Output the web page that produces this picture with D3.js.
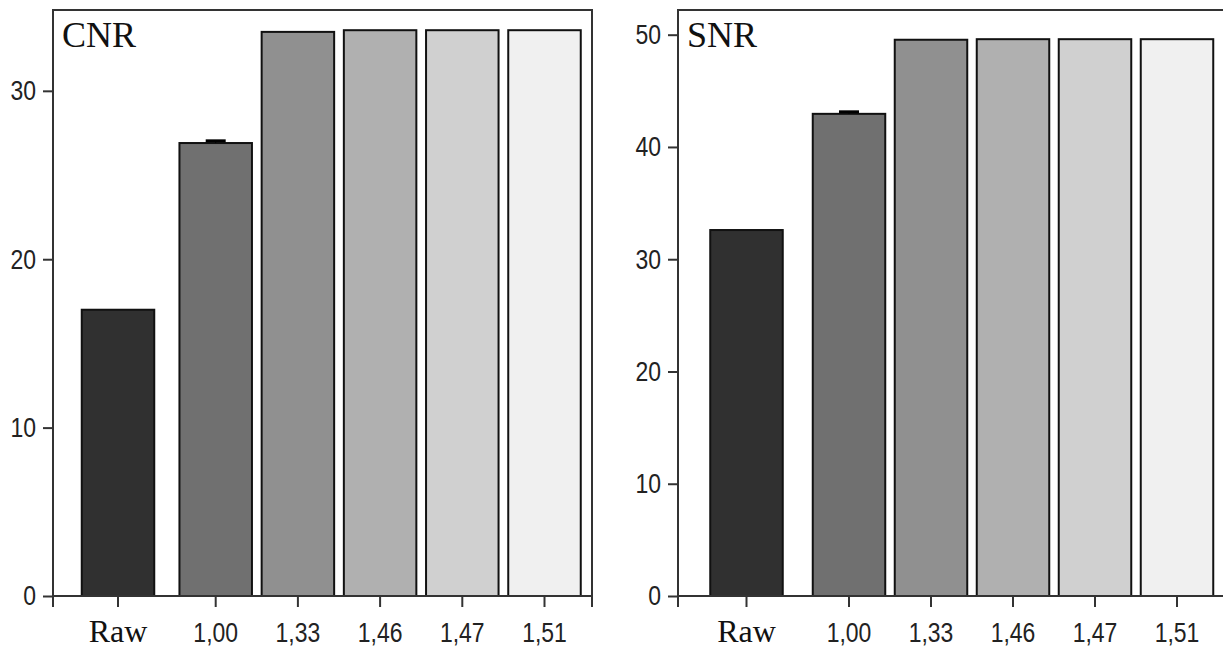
<!DOCTYPE html>
<html>
<head>
<meta charset="utf-8">
<script src="https://cdn.jsdelivr.net/npm/d3@7"></script>
<style>
  body { margin: 0; background: #fff; }
  svg { display: block; }
  .tick-label { font-family: "Liberation Sans", Arial, sans-serif; font-size: 28px; fill: #222; }
  .serif { font-family: "Liberation Serif", "Times New Roman", serif; fill: #111; }
</style>
</head>
<body>
<div id="chart"></div>
<script>
// categories (binning factor), first one is the raw image
var categories = ["Raw", "1,00", "1,33", "1,46", "1,47", "1,51"];
var cnrValues = [17.0, 26.9, 33.5, 33.6, 33.6, 33.6];
var cnrErrors = [0, 0.13, 0, 0, 0, 0];
var snrValues = [32.6, 42.95, 49.55, 49.6, 49.6, 49.6];
var snrErrors = [0, 0.18, 0, 0, 0, 0];
var cnrTicks = [0, 10, 20, 30];
var snrTicks = [0, 10, 20, 30, 40, 50];
var barColors = ["#303030", "#707070", "#909090", "#b0b0b0", "#d0d0d0", "#f0f0f0"];

var narrow = 0.82; // tick font is a condensed one, squeeze Liberation Sans

var svg = d3.select("#chart")
        .append("svg")
        .attr("width", 1223)
        .attr("height", 650);

drawPanel({title: "CNR", values: cnrValues, errors: cnrErrors, ticks: cnrTicks,
    left: 53, right: 592, top: 10, bottom: 596, yMax: 34.8,
    rawX: 118, firstX: 215.7, lastX: 544.5, barW: 72.5});

drawPanel({title: "SNR", values: snrValues, errors: snrErrors, ticks: snrTicks,
    left: 678, right: 1226, top: 10, bottom: 596, yMax: 52.2,
    rawX: 746.5, firstX: 849, lastX: 1177, barW: 72.5});

function drawPanel(p) {
    var g = svg.append("g");

    var y = d3.scaleLinear()
            .domain([0, p.yMax])
            .range([p.bottom, p.top]);

    // the binned ones are evenly spaced, Raw sits a bit further left
    var xp = d3.scalePoint()
            .domain(categories.slice(1))
            .range([p.firstX, p.lastX]);
    var x = function (c) {
        return c === categories[0] ? p.rawX : xp(c);
    };

    var data = categories.map(function (c, i) {
        return {name: c, value: p.values[i], err: p.errors[i], color: barColors[i]};
    });

    // bars
    g.selectAll("rect.bar")
            .data(data)
            .enter()
            .append("rect")
            .attr("class", "bar")
            .attr("x", function (d) { return x(d.name) - p.barW / 2; })
            .attr("y", function (d) { return y(d.value); })
            .attr("width", p.barW)
            .attr("height", function (d) { return y(0) - y(d.value); })
            .attr("fill", function (d) { return d.color; })
            .attr("stroke", "#111")
            .attr("stroke-width", 2);

    // error bars (only where there is one)
    var eb = g.selectAll("g.err")
            .data(data.filter(function (d) { return d.err > 0; }))
            .enter()
            .append("g")
            .attr("class", "err");
    eb.append("line")
            .attr("x1", function (d) { return x(d.name); })
            .attr("x2", function (d) { return x(d.name); })
            .attr("y1", function (d) { return y(d.value); })
            .attr("y2", function (d) { return y(d.value + d.err); })
            .attr("stroke", "#000")
            .attr("stroke-width", 1);
    eb.append("line")
            .attr("x1", function (d) { return x(d.name) - 10; })
            .attr("x2", function (d) { return x(d.name) + 10; })
            .attr("y1", function (d) { return y(d.value + d.err); })
            .attr("y2", function (d) { return y(d.value + d.err); })
            .attr("stroke", "#000")
            .attr("stroke-width", 3);

    // frame
    g.append("rect")
            .attr("x", p.left)
            .attr("y", p.top)
            .attr("width", p.right - p.left)
            .attr("height", p.bottom - p.top)
            .attr("fill", "none")
            .attr("stroke", "#333")
            .attr("stroke-width", 2);

    // y axis
    var yAxis = g.append("g")
            .attr("transform", "translate(" + p.left + ",0)")
            .call(d3.axisLeft(y).tickValues(p.ticks).tickSize(10).tickPadding(7));
    yAxis.select(".domain").remove();
    yAxis.attr("font-family", null).attr("font-size", null);
    yAxis.selectAll(".tick line").attr("stroke", "#333").attr("stroke-width", 2);
    yAxis.selectAll(".tick text")
            .attr("class", "tick-label")
            .attr("x", -17 / narrow)
            .attr("dy", "0.32em")
            .attr("transform", "scale(" + narrow + ",1)")
            .attr("fill", null);

    // x ticks: at bar centres and at both frame edges
    var xTicks = data.map(function (d) { return x(d.name); }).concat([p.left, p.right]);
    g.selectAll("line.xtick")
            .data(xTicks)
            .enter()
            .append("line")
            .attr("class", "xtick")
            .attr("x1", function (d) { return d; })
            .attr("x2", function (d) { return d; })
            .attr("y1", p.bottom)
            .attr("y2", p.bottom + 11)
            .attr("stroke", "#333")
            .attr("stroke-width", 2);

    g.selectAll("text.xlab")
            .data(data)
            .enter()
            .append("text")
            .attr("class", function (d, i) { return i === 0 ? "xlab serif" : "xlab tick-label"; })
            .attr("transform", function (d, i) {
                var t = "translate(" + x(d.name) + ",642)";
                return i === 0 ? t : t + " scale(" + narrow + ",1)";
            })
            .attr("text-anchor", "middle")
            .style("font-size", function (d, i) { return i === 0 ? "32px" : null; })
            .text(function (d) { return d.name; });

    // panel title
    g.append("text")
            .attr("class", "serif")
            .attr("x", p.left + 9)
            .attr("y", 47)
            .style("font-size", "36px")
            .text(p.title);
}
</script>
</body>
</html>
